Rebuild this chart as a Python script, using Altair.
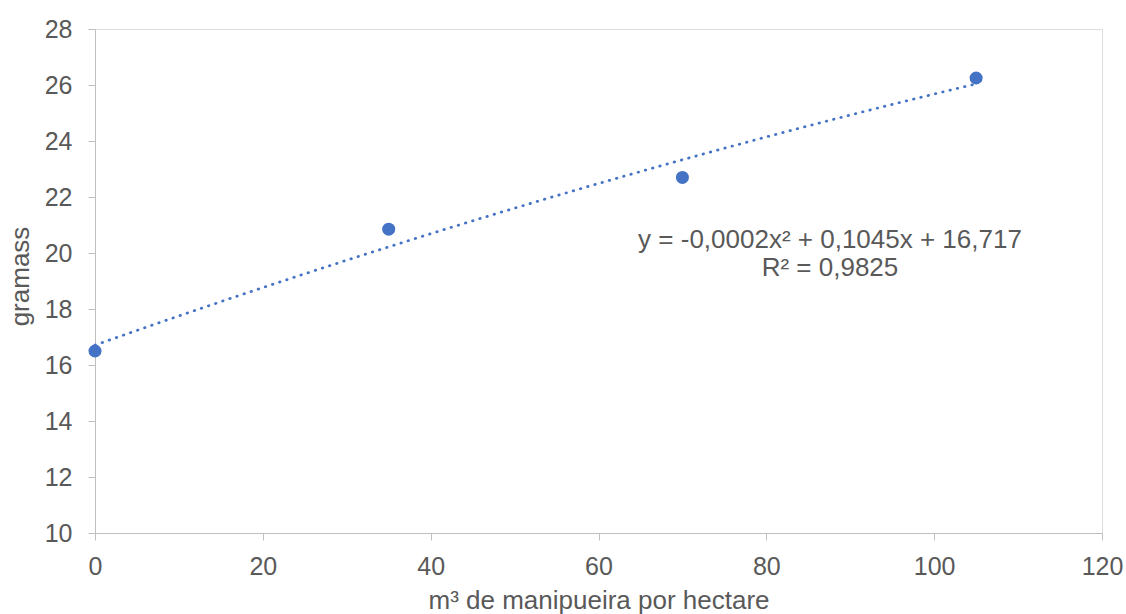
import altair as alt
import pandas as pd

x_vals = [0, 35, 70, 105]
y_vals = [16.5, 20.85, 22.7, 26.25]
x_ticks = [0, 20, 40, 60, 80, 100, 120]
y_ticks = [10, 12, 14, 16, 18, 20, 22, 24, 26, 28]
eq_lines = ["y = -0,0002x² + 0,1045x + 16,717", "R² = 0,9825"]

df = pd.DataFrame({"x": x_vals, "y": y_vals})

BLUE = "#4472C4"
FONT = "Liberation Sans"
LABEL = "#595959"
AXIS = "#BFBFBF"
TICK_FS = 25
TEXT_FS = 26

x_enc = alt.X("x:Q", scale=alt.Scale(domain=[0, 120], nice=False, zero=False),
              axis=alt.Axis(values=x_ticks, title="m³ de manipueira por hectare",
                            grid=False, domainColor=AXIS, tickColor=AXIS, tickSize=7,
                            labelColor=LABEL, labelFont=FONT, labelFontSize=TICK_FS,
                            labelPadding=14, titleFont=FONT, titleFontSize=TEXT_FS,
                            titleFontWeight="normal", titleColor=LABEL,
                            titleY=75, titleBaseline="alphabetic", labelFlush=False))
y_enc = alt.Y("y:Q", scale=alt.Scale(domain=[10, 28], nice=False, zero=False),
              axis=alt.Axis(values=y_ticks, title="gramass", grid=False,
                            domainColor=AXIS, tickColor=AXIS, tickSize=7,
                            labelColor=LABEL, labelFont=FONT, labelFontSize=TICK_FS,
                            labelPadding=16, titleFont=FONT, titleFontSize=TEXT_FS,
                            titleFontWeight="normal", titleColor=LABEL,
                            titleX=-75, titleY=247, titleAngle=270,
                            titleAlign="center", titleBaseline="middle"))

base = alt.Chart(df)

trend = base.transform_regression(
    "x", "y", method="poly", order=2, extent=[0, 105]
).mark_line(color=BLUE, strokeWidth=2.75, strokeDash=[0.5, 7], strokeCap="round").encode(
    x=x_enc, y=y_enc)

points = base.mark_point(filled=True, color=BLUE, size=170, opacity=1).encode(
    x="x:Q", y="y:Q")

eq = alt.Chart(pd.DataFrame({"t": [0]})).mark_text(
    font=FONT, fontSize=TEXT_FS, color=LABEL, align="center", baseline="middle",
    lineHeight=28
).encode(x=alt.value(735), y=alt.value(211), text=alt.value(eq_lines))

chart = alt.layer(trend, points, eq).properties(
    width=1007, height=504,
    autosize=alt.AutoSizeParams(type="none"),
    padding={"left": 95, "top": 29, "right": 24, "bottom": 81},
).configure_view(stroke=None).configure(background="white")

chart.save("out.html", embed_options={"renderer": "svg", "actions": False})
